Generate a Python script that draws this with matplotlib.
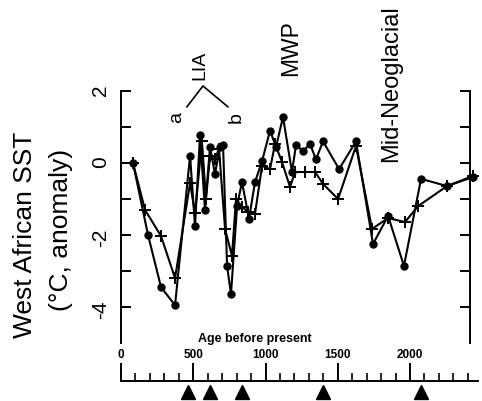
import matplotlib
matplotlib.use("Agg")
import matplotlib.pyplot as plt
from matplotlib.ticker import FixedLocator

plt.rcParams['font.family'] = ['Liberation Sans', 'DejaVu Sans']

# series with filled dots
age_dot = [83, 187, 277, 374, 478, 512, 547, 581, 616, 650, 685, 706, 734, 761, 803,
           837, 886, 927, 976, 1031, 1073, 1121, 1183, 1211, 1260, 1308, 1349, 1398,
           1509, 1626, 1744, 1848, 1958, 2076, 2256, 2436]
sst_dot = [0.0, -2.0, -3.45, -3.95, 0.2, -1.75, 0.78, -1.3, 0.45, -0.3, 0.45, 0.5, -2.86,
           -3.64, -1.2, -0.53, -1.55, -0.53, 0.05, 0.9, 0.45, 1.28, -0.25, 0.5, 0.33, 0.53,
           0.1, 0.6, -0.17, 0.6, -2.25, -1.47, -2.86, -0.44, -0.64, -0.39]

# series with plus markers
age_plus = [83, 166, 277, 374, 478, 512, 560, 588, 616, 650, 678, 720, 768, 796, 837,
            879, 927, 976, 1031, 1066, 1114, 1170, 1204, 1273, 1343, 1398, 1502, 1626,
            1737, 1848, 1965, 2055, 2256, 2436]
sst_plus = [0.0, -1.3, -2.03, -3.2, -0.55, -1.4, 0.6, -1.0, 0.2, 0.1, 0.4, -1.83, -2.58,
            -1.0, -1.22, -1.36, -1.42, -0.08, -0.17, 0.53, 0.03, -0.67, -0.25, -0.25,
            -0.25, -0.58, -1.0, 0.47, -1.83, -1.53, -1.64, -1.2, -0.64, -0.36]

arrow_ages = [465, 618, 840, 1396, 2076]

fig = plt.figure(figsize=(4.82, 4.02), dpi=100)
ax = fig.add_axes([121 / 482, 0, 358.4 / 482, 1])
ax.set_xlim(0, 2480)
ax.set_ylim(-6.611, 4.556)

ax.plot(age_plus, sst_plus, color='black', lw=1.5, marker='+', ms=8, mew=1.4, clip_on=False)
ax.plot(age_dot, sst_dot, color='black', lw=1.5, marker='o', ms=5, clip_on=False)
ax.plot(arrow_ages, [-6.36] * len(arrow_ages), ls='none', marker='^', ms=10,
        color='black', clip_on=False)

ax.spines['top'].set_visible(False)
ax.spines['left'].set_bounds(-5, 2)
ax.spines['right'].set_position(('data', 2415))
ax.spines['right'].set_bounds(-5, 2)
ax.spines['bottom'].set_position(('data', -6.06))
ax.spines['bottom'].set_bounds(0, 2470)
for s in ax.spines.values():
    s.set_linewidth(1.4)

ax.yaxis.set_major_locator(FixedLocator([-4, -2, 0, 2]))
ax.yaxis.set_minor_locator(FixedLocator([-3, -1, 1]))
ax.set_yticklabels(['-4', '-2', '0', '2'])
ax.tick_params(axis='y', which='both', left=True, right=True, direction='in',
               length=7, width=1.4, labelsize=15, pad=8, labelrotation=90)

ax.xaxis.set_major_locator(FixedLocator([0, 500, 1000, 1500, 2000]))
ax.xaxis.set_minor_locator(FixedLocator(list(range(100, 2500, 100))))
ax.tick_params(axis='x', which='major', direction='in', length=13, width=1.4,
               labelsize=8.5, pad=-24)
ax.tick_params(axis='x', which='minor', direction='in', length=6, width=1.2)
for lab in ax.get_xticklabels():
    lab.set_fontweight('bold')

ax.text(927, -4.86, 'Age before present', fontsize=9, fontweight='bold',
        ha='center', va='center')

# period annotations
ax.text(547, 2.75, 'LIA', rotation=90, fontsize=14, ha='center', va='center')
ax.text(385, 1.3, 'a', rotation=90, fontsize=14, ha='center', va='center')
ax.text(795, 1.3, 'b', rotation=90, fontsize=14, ha='center', va='center')
ax.plot([456, 567, 740], [1.56, 2.14, 1.56], color='black', lw=1.2, clip_on=False)
ax.text(1175, 3.22, 'MWP', rotation=90, fontsize=16.5, ha='center', va='center')
ax.text(1869, 2.22, 'Mid-Neoglacial', rotation=90, fontsize=17, ha='center', va='center')

fig.text(25 / 482, 1 - 235 / 402, 'West African SST', rotation=90, fontsize=19,
         ha='center', va='center')
fig.text(61 / 482, 1 - 230 / 402, '(°C, anomaly)', rotation=90, fontsize=19,
         ha='center', va='center')

fig.savefig('out.png', dpi=100)
